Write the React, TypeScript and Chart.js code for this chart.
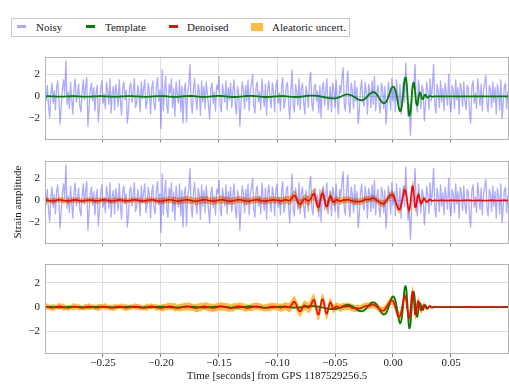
import { useEffect, useRef } from "react";
import { Chart, registerables } from "chart.js";

Chart.register(...registerables);

const FONT = '"Liberation Serif", "Times New Roman", Times, serif';

// ---------- axes ----------
const X_MIN = -0.3;
const X_MAX = 0.1;
const Y_MIN = -3.88;
const Y_MAX = 3.6;
const xTickValues = [-0.25, -0.2, -0.15, -0.1, -0.05, 0, 0.05];
const yTickValues = [-2, 0, 2];
const xAxisTitle = "Time [seconds] from GPS 1187529256.5";
const yAxisTitle = "Strain amplitude";
const legendLabels = ["Noisy", "Template", "Denoised", "Aleatoric uncert."];

// ---------- noisy strain, sampled every 1 ms from -0.300 s ----------
const noisyStart = -0.3;
const noisyStep = 0.001;
const noisyValues = [
  0.9, -0.4, 1.0, -0.8, -1.9, 0.3, 1.2, -0.6, 0.5, -1.2, 0.8, 1.4, -0.3, -2.5, -0.9, 0.6, 1.5, 0.2, 3.2, -0.7,
  0.4, -1.1, 1.3, -0.2, -1.6, 0.7, 1.6, -0.5, 0.1, 1.1, -0.9, -1.4, 0.5, 1.5, -0.3, 0.9, 1.7, -2.7, -1.0, 0.6,
  1.2, -0.4, 0.8, -1.3, 0.3, 1.0, -2.3, -0.8, 0.7, 1.4, -0.6, 0.2, -1.1, 1.3, 0.5, -0.7, 1.6, -1.5, 0.4, 0.9,
  -1.2, 1.1, 0.3, -0.9, 1.5, -0.4, -1.7, 0.8, 1.3, -0.3, 0.6, -2.4, -1.3, 0.9, 1.2, -0.5, 0.4, 1.6, -1.0, -0.6,
  1.0, 0.2, -1.4, 1.3, -0.2, 0.7, 1.5, -1.1, -0.5, 1.2, 0.4, -1.6, 0.8, 1.4, -0.7, -1.2, 0.9, 1.7, -0.4, 0.6,
  -2.9, 2.4, -1.3, 0.5, 1.8, -0.8, -1.5, 1.1, 0.3, 1.6, -1.0, 0.7, -1.8, 1.3, 0.2, -0.6, 1.5, -1.4, 0.9, -2.4,
  0.6, 1.2, -2.3, 0.4, 1.0, 2.9, -0.7, -1.5, 0.8, 1.6, -0.3, -1.2, 1.1, 0.5, -1.7, 1.4, -0.5, 0.9, -1.1, 1.3,
  0.2, -0.9, -2.0, 0.7, 1.2, -0.6, 0.4, -1.3, 1.0, 0.6, 1.8, -0.8, -1.4, 1.1, 0.3, -0.5, 1.4, -1.2, 0.8, -0.3,
  1.2, -1.0, 0.5, 1.5, -0.7, -1.6, 0.9, 0.3, -2.7, -0.6, 1.3, 0.7, -1.1, 1.0, -0.4, 1.5, -1.3, 0.6, 1.1, 2.0,
  -0.8, -1.5, 0.9, 1.3, -0.5, 0.4, -1.2, 1.6, 0.2, -0.9, 1.1, -1.7, 0.7, 1.4, -0.3, -1.0, 1.2, 0.5, -1.4, 0.8,
  1.5, -0.6, 0.3, -1.3, 1.0, 1.7, -1.1, -0.4, 0.9, 1.3, -0.7, -2.0, 0.6, 2.4, -0.9, -1.4, 1.1, 0.4, -0.8, 1.6,
  -1.2, 0.7, 1.2, -0.5, -1.6, 0.9, 0.3, -1.0, 1.4, 2.2, -0.6, -1.3, 0.8, 1.1, -0.4, 0.5, -1.5, 1.0, -1.9, 0.6,
  1.3, -0.8, 0.4, 1.6, -1.2, -0.3, 0.9, -1.4, 1.2, 0.6, -1.0, 1.5, -0.5, -1.6, 1.0, 0.3, 1.7, 2.6, -0.7, -1.3,
  0.9, 2.3, -0.6, -1.5, 1.2, 0.5, -1.1, 1.4, -0.4, 0.8, -2.5, -1.2, 0.7, 1.5, -0.3, -0.9, 1.3, 0.4, -1.6, 1.1,
  0.6, -1.0, 1.4, -0.7, 1.8, -1.3, 0.3, 1.0, -0.6, -1.5, 1.2, 0.7, -1.1, 0.9, -2.5, -0.8, 1.3, 0.5, -1.2, 1.6,
  -0.4, 0.8, -1.4, 1.5, 0.2, -0.9, 1.1, -1.6, 0.6, 1.3, -0.5, 3.0, 0.4, -1.8, -0.7, -3.5, -1.0, 1.2, 0.8, 2.9,
  -0.6, -1.4, 1.5, 0.3, -1.1, 1.0, 0.6, -2.2, -0.8, 1.3, 0.5, -1.2, 1.6, -0.4, 0.9, 2.9, -0.7, -1.5, 1.1, 0.4,
  -1.0, 1.4, -0.5, 0.7, -1.3, 1.2, 0.2, -0.8, 2.0, -0.6, -1.4, 1.0, 0.5, -1.1, 1.5, -0.3, 0.8, -1.6, 1.2, 0.6,
  -0.9, 1.3, -0.4, -1.2, 1.0, 0.7, -1.5, -2.4, 0.9, 1.4, -0.6, 0.3, -1.1, 1.6, 0.4, -0.8, 1.1, -1.3, 0.5, 1.2,
  1.9, -0.7, -1.4, 1.0, 0.6, -1.0, 1.3, -0.5, 0.8, -1.6, 1.1, 0.3, -1.2, 1.5, -2.0, -0.6, 0.9, 1.2, -1.1, 0.4,
  0.3,
];

// ---------- signal sampling: 2 ms, then 1 ms around the event, then 2 ms ----------
const signalSegments = [
  { start: -0.3, stop: -0.102, step: 0.002 },
  { start: -0.1, stop: 0.04, step: 0.001 },
  { start: 0.042, stop: 0.1, step: 0.002 },
];

// Template waveform (green)
const templateValues = [
  // -0.300 .. -0.102 (2 ms)
  0.01, 0.02, 0.02, 0.01, 0.0, -0.01, -0.02, -0.02, -0.01, 0.0,
  0.01, 0.02, 0.02, 0.02, 0.01, 0.0, -0.01, -0.02, -0.02, -0.02,
  -0.01, 0.0, 0.01, 0.02, 0.03, 0.02, 0.01, 0.0, -0.01, -0.02,
  -0.03, -0.02, -0.01, 0.0, 0.01, 0.02, 0.03, 0.03, 0.02, 0.01,
  0.0, -0.01, -0.02, -0.03, -0.03, -0.02, -0.01, 0.01, 0.02, 0.03,
  0.03, 0.03, 0.02, 0.0, -0.02, -0.03, -0.04, -0.03, -0.02, 0.0,
  0.02, 0.03, 0.04, 0.04, 0.03, 0.01, -0.01, -0.03, -0.04, -0.04,
  -0.03, -0.01, 0.01, 0.03, 0.04, 0.05, 0.04, 0.02, 0.0, -0.02,
  -0.04, -0.05, -0.05, -0.04, -0.02, 0.0, 0.02, 0.04, 0.05, 0.05,
  0.04, 0.02, 0.0, -0.02, -0.04, -0.05, -0.05, -0.04, -0.02, 0.0,
  // -0.100 .. 0.040 (1 ms)
  0.01, 0.02, 0.03, 0.035, 0.04, 0.04, 0.035, 0.025, 0.015, 0.0,
  -0.01, -0.02, -0.03, -0.04, -0.045, -0.05, -0.05, -0.05, -0.045, -0.04,
  -0.03, -0.02, -0.005, 0.01, 0.025, 0.04, 0.05, 0.06, 0.07, 0.075,
  0.08, 0.08, 0.075, 0.07, 0.06, 0.045, 0.03, 0.01, -0.01, -0.03,
  -0.05, -0.07, -0.09, -0.11, -0.13, -0.145, -0.155, -0.165, -0.17, -0.17,
  -0.165, -0.15, -0.125, -0.09, -0.05, -0.01, 0.04, 0.09, 0.13, 0.16,
  0.18, 0.185, 0.175, 0.15, 0.11, 0.06, 0.0, -0.06, -0.13, -0.2,
  -0.26, -0.31, -0.34, -0.35, -0.33, -0.28, -0.2, -0.1, 0.01, 0.12,
  0.23, 0.32, 0.37, 0.39, 0.37, 0.3, 0.19, 0.04, -0.13, -0.3,
  -0.45, -0.56, -0.62, -0.6, -0.5, -0.31, -0.06, 0.25, 0.55, 0.78,
  0.88, 0.82, 0.56, 0.13, -0.4, -1.0, -1.33, -1.2, -0.55, 0.4,
  1.55, 1.72, 0.9, -0.7, -1.75, -1.45, -0.2, 1.0, 1.25, 0.4,
  -0.6, -0.8, -0.1, 0.35, 0.2, -0.2, -0.22, 0.1, 0.15, -0.05,
  -0.1, 0.02, 0.06, 0.0, -0.03, 0.0, 0.01, 0.0, 0.0, 0.0,
  0.0,
  // 0.042 .. 0.100 (2 ms)
  0, 0, 0, 0, 0, 0, 0, 0, 0, 0,
  0, 0, 0, 0, 0, 0, 0, 0, 0, 0,
  0, 0, 0, 0, 0, 0, 0, 0, 0, 0,
];

// Denoised output (red)
const denoisedValues = [
  // -0.300 .. -0.102
  0.05, 0.03, -0.02, -0.05, -0.03, 0.02, 0.06, 0.04, -0.01, -0.04,
  -0.06, -0.02, 0.03, 0.05, 0.02, -0.03, -0.05, -0.02, 0.02, 0.04,
  0.03, -0.01, -0.04, -0.03, 0.01, 0.05, 0.04, 0.0, -0.04, -0.05,
  -0.02, 0.02, 0.05, 0.03, -0.01, -0.04, -0.03, 0.01, 0.04, 0.05,
  0.02, -0.02, -0.05, -0.04, 0.0, 0.04, 0.06, 0.03, -0.02, -0.05,
  -0.07, -0.04, 0.01, 0.05, 0.06, 0.03, -0.02, -0.06, -0.05, -0.01,
  0.04, 0.07, 0.05, 0.0, -0.05, -0.07, -0.04, 0.01, 0.05, 0.06,
  0.03, -0.02, -0.06, -0.05, -0.01, 0.04, 0.07, 0.05, 0.0, -0.05,
  -0.07, -0.04, 0.02, 0.06, 0.07, 0.03, -0.03, -0.07, -0.06, -0.01,
  0.04, 0.07, 0.05, 0.0, -0.05, -0.06, -0.03, 0.02, 0.05, 0.04,
  // -0.100 .. 0.040
  0.02, 0.0, -0.03, -0.05, -0.04, 0.0, 0.04, 0.06, 0.05, 0.02,
  -0.02, 0.0, 0.1, 0.25, 0.4, 0.45, 0.35, 0.1, -0.15, -0.3,
  -0.35, -0.25, -0.05, 0.1, 0.15, 0.1, 0.0, -0.05, 0.0, 0.15,
  0.35, 0.55, 0.6, 0.3, -0.2, -0.55, -0.6, -0.2, 0.35, 0.65,
  0.55, 0.1, -0.4, -0.55, -0.25, 0.2, 0.4, 0.25, -0.05, -0.15,
  -0.05, 0.05, 0.05, 0.0, -0.05, -0.06, -0.02, 0.03, 0.05, 0.03,
  0.05, 0.08, 0.07, 0.03, -0.02, -0.06, -0.08, -0.1, -0.1, -0.08,
  -0.1, -0.12, -0.1, -0.06, 0.0, 0.05, 0.08, 0.1, 0.1, 0.1,
  0.12, 0.16, 0.2, 0.2, 0.18, 0.1, 0.02, -0.05, -0.12, -0.2,
  -0.26, -0.3, -0.28, -0.2, -0.05, 0.1, 0.25, 0.4, 0.5, 0.55,
  0.5, 0.3, 0.0, -0.35, -0.65, -0.8, -0.75, -0.45, 0.05, 0.6,
  0.95, 0.8, 0.1, -0.6, -0.9, -0.3, 0.8, 1.3, 0.6, -0.6,
  -0.5, 0.3, 0.5, 0.1, -0.25, -0.2, 0.1, 0.18, 0.0, -0.12,
  -0.08, 0.05, 0.08, 0.0, -0.04, 0.0, 0.02, 0.0, -0.01, 0.0,
  0.0,
  // 0.042 .. 0.100
  0.01, 0.0, -0.01, 0.0, 0.01, 0.01, 0.0, -0.01, -0.01, 0.0,
  0.01, 0.02, 0.01, 0.0, -0.01, 0.0, 0.01, 0.0, -0.01, 0.0,
  0.0, 0.01, 0.01, 0.0, -0.01, -0.01, 0.0, 0.01, 0.0, 0.0,
];

// Aleatoric uncertainty half-width (orange band)
const uncertaintyValues = [
  // -0.300 .. -0.102
  0.22, 0.26, 0.2, 0.28, 0.24, 0.19, 0.27, 0.23, 0.3, 0.21,
  0.25, 0.2, 0.29, 0.24, 0.22, 0.27, 0.19, 0.26, 0.23, 0.28,
  0.2, 0.25, 0.22, 0.3, 0.24, 0.21, 0.27, 0.2, 0.25, 0.23,
  0.28, 0.22, 0.19, 0.26, 0.24, 0.29, 0.21, 0.25, 0.2, 0.27,
  0.23, 0.26, 0.21, 0.24, 0.3, 0.22, 0.25, 0.2, 0.28, 0.24,
  0.27, 0.31, 0.25, 0.33, 0.28, 0.3, 0.35, 0.27, 0.32, 0.29,
  0.34, 0.3, 0.36, 0.31, 0.28, 0.35, 0.32, 0.37, 0.3, 0.33,
  0.36, 0.31, 0.34, 0.29, 0.35, 0.32, 0.38, 0.3, 0.33, 0.36,
  0.3, 0.34, 0.31, 0.28, 0.33, 0.29, 0.35, 0.3, 0.27, 0.32,
  0.29, 0.33, 0.28, 0.31, 0.27, 0.32, 0.3, 0.34, 0.29, 0.31,
  // -0.100 .. 0.040
  0.3, 0.33, 0.29, 0.35, 0.31, 0.34, 0.3, 0.36, 0.33, 0.35,
  0.38, 0.4, 0.42, 0.45, 0.43, 0.47, 0.44, 0.42, 0.45, 0.43,
  0.46, 0.42, 0.4, 0.38, 0.41, 0.39, 0.42, 0.44, 0.46, 0.48,
  0.5, 0.48, 0.52, 0.5, 0.47, 0.51, 0.49, 0.53, 0.5, 0.48,
  0.5, 0.47, 0.45, 0.48, 0.44, 0.42, 0.4, 0.38, 0.36, 0.35,
  0.33, 0.35, 0.32, 0.3, 0.33, 0.31, 0.34, 0.3, 0.32, 0.29,
  0.31, 0.33, 0.3, 0.28, 0.31, 0.29, 0.32, 0.3, 0.28, 0.31,
  0.29, 0.3, 0.27, 0.3, 0.28, 0.31, 0.29, 0.27, 0.3, 0.28,
  0.3, 0.28, 0.31, 0.29, 0.27, 0.3, 0.28, 0.31, 0.29, 0.32,
  0.3, 0.33, 0.31, 0.34, 0.32, 0.35, 0.33, 0.36, 0.34, 0.37,
  0.36, 0.38, 0.35, 0.39, 0.37, 0.4, 0.38, 0.42, 0.4, 0.43,
  0.45, 0.42, 0.46, 0.44, 0.47, 0.45, 0.48, 0.5, 0.46, 0.44,
  0.42, 0.38, 0.36, 0.32, 0.3, 0.27, 0.24, 0.22, 0.19, 0.17,
  0.15, 0.13, 0.11, 0.09, 0.08, 0.07, 0.06, 0.06, 0.05, 0.06,
  0.05,
  // 0.042 .. 0.100
  0.05, 0.06, 0.05, 0.04, 0.06, 0.05, 0.07, 0.05, 0.04, 0.06,
  0.05, 0.04, 0.06, 0.05, 0.05, 0.07, 0.04, 0.05, 0.06, 0.05,
  0.04, 0.06, 0.05, 0.05, 0.04, 0.06, 0.05, 0.07, 0.05, 0.05,
];

// ---------- colours ----------
const NOISY_COLOR = "rgba(0,0,255,0.33)";
const NOISY_SWATCH = "#aaaaff";
const TEMPLATE_COLOR = "#008000";
const DENOISED_COLOR = "#ff0000";
const BAND_COLOR = "rgba(255,165,0,0.75)";
const GRID_COLOR = "#dedede";
const FRAME_COLOR = "#b4b4b4";
const TEXT_COLOR = "#1a1a1a";

// ---------- derived tables ----------
const noisyTime = noisyValues.map((_, i) => +(noisyStart + i * noisyStep).toFixed(4));
const signalTime: number[] = [];
for (const seg of signalSegments) {
  const n = Math.round((seg.stop - seg.start) / seg.step) + 1;
  for (let i = 0; i < n; i++) signalTime.push(+(seg.start + i * seg.step).toFixed(4));
}
const noisyPoints = noisyTime.map((x, i) => ({ x, y: noisyValues[i] }));
const templatePoints = signalTime.map((x, i) => ({ x, y: templateValues[i] }));
const denoisedPoints = signalTime.map((x, i) => ({ x, y: denoisedValues[i] }));
const bandUpper = signalTime.map((x, i) => ({ x, y: denoisedValues[i] + uncertaintyValues[i] }));
const bandLower = signalTime.map((x, i) => ({ x, y: denoisedValues[i] - uncertaintyValues[i] }));

const fmtX = (v: number) => {
  const s = Math.abs(v) < 1e-9 ? "0.00" : v.toFixed(2);
  return s.replace("-", "\u2212");
};
const fmtY = (v: number) => String(v).replace("-", "\u2212");

const framePlugin = {
  id: "frame",
  afterDatasetsDraw(chart: any) {
    const { ctx, chartArea: a } = chart;
    ctx.save();
    ctx.strokeStyle = FRAME_COLOR;
    ctx.lineWidth = 1;
    ctx.strokeRect(Math.round(a.left) + 0.5, Math.round(a.top) + 0.5, Math.round(a.right - a.left) - 1, Math.round(a.bottom - a.top) - 1);
    ctx.restore();
  },
};

function makeOptions(xAxisHeight: number, showXLabels: boolean, yTitle: boolean, xTitle: boolean): any {
  return {
    responsive: false,
    animation: false,
    devicePixelRatio: 1,
    events: [],
    layout: { padding: { top: 2, right: 0, bottom: 0, left: 0 } },
    plugins: { legend: { display: false }, tooltip: { enabled: false } },
    elements: { point: { radius: 0 } },
    scales: {
      x: {
        type: "linear",
        min: X_MIN,
        max: X_MAX,
        afterBuildTicks: (s: any) => {
          s.ticks = xTickValues.map((v) => ({ value: v }));
        },
        afterFit: (s: any) => {
          s.height = xAxisHeight;
        },
        ticks: {
          display: showXLabels,
          padding: 0,
          maxRotation: 0,
          autoSkip: false,
          color: TEXT_COLOR,
          font: { family: FONT, size: 11 },
          callback: (v: any) => fmtX(Number(v)),
        },
        grid: { color: GRID_COLOR, lineWidth: 1, drawTicks: true, tickLength: 3, tickColor: "#808080", tickWidth: 1 },
        border: { display: false },
        title: {
          display: xTitle,
          text: xAxisTitle,
          color: TEXT_COLOR,
          font: { family: FONT, size: 11 },
          padding: { top: 0, bottom: 0 },
        },
      },
      y: {
        type: "linear",
        min: Y_MIN,
        max: Y_MAX,
        afterBuildTicks: (s: any) => {
          s.ticks = yTickValues.map((v) => ({ value: v }));
        },
        afterFit: (s: any) => {
          s.width = 45;
        },
        ticks: {
          padding: 5,
          color: TEXT_COLOR,
          font: { family: FONT, size: 11 },
          callback: (v: any) => fmtY(Number(v)),
        },
        grid: { color: GRID_COLOR, lineWidth: 1, drawTicks: false },
        border: { display: false },
        title: {
          display: yTitle,
          text: yAxisTitle,
          color: TEXT_COLOR,
          font: { family: FONT, size: 11 },
          padding: { top: 12, bottom: 0 },
        },
      },
    },
  };
}

const lineBase = { pointRadius: 0, fill: false, borderJoinStyle: "round" as const };

const noisyDataset = (order: number) => ({
  ...lineBase,
  label: "Noisy",
  data: noisyPoints,
  borderColor: NOISY_COLOR,
  borderWidth: 1.3,
  tension: 0,
  order,
});
const templateDataset = (order: number) => ({
  ...lineBase,
  label: "Template",
  data: templatePoints,
  borderColor: TEMPLATE_COLOR,
  borderWidth: 1.8,
  tension: 0.4,
  order,
});
const denoisedDataset = (order: number) => ({
  ...lineBase,
  label: "Denoised",
  data: denoisedPoints,
  borderColor: DENOISED_COLOR,
  borderWidth: 1.6,
  tension: 0.4,
  order,
});
const bandDatasets = (order: number) => [
  {
    ...lineBase,
    label: "band-upper",
    data: bandUpper,
    borderWidth: 0,
    borderColor: "rgba(0,0,0,0)",
    tension: 0.2,
    order,
  },
  {
    ...lineBase,
    label: "Aleatoric uncert.",
    data: bandLower,
    borderWidth: 0,
    borderColor: "rgba(0,0,0,0)",
    backgroundColor: BAND_COLOR,
    fill: "-1",
    tension: 0.2,
    order: order + 1,
  },
];

type PanelProps = { top: number; height: number; build: () => any };

function Panel({ top, height, build }: PanelProps) {
  const ref = useRef<HTMLCanvasElement | null>(null);
  useEffect(() => {
    if (!ref.current) return;
    const chart = new Chart(ref.current, build());
    return () => chart.destroy();
  }, []);
  return (
    <canvas
      ref={ref}
      width={509}
      height={height}
      style={{ position: "absolute", left: 0, top, width: 509, height }}
    />
  );
}

const panel1 = () => ({
  type: "line",
  data: { datasets: [templateDataset(0), noisyDataset(1)] },
  options: makeOptions(4, false, false, false),
  plugins: [framePlugin],
});
const panel2 = () => ({
  type: "line",
  data: { datasets: [denoisedDataset(0), noisyDataset(1), ...bandDatasets(2)] },
  options: makeOptions(4, false, true, false),
  plugins: [framePlugin],
});
const panel3 = () => ({
  type: "line",
  data: { datasets: [denoisedDataset(0), templateDataset(1), ...bandDatasets(2)] },
  options: makeOptions(29, true, false, true),
  plugins: [framePlugin],
});

const legendSwatches = [
  { left: 17, top: 25, width: 9, height: 3, color: NOISY_SWATCH },
  { left: 86, top: 25, width: 9, height: 3, color: TEMPLATE_COLOR },
  { left: 169, top: 25, width: 9, height: 3, color: DENOISED_COLOR },
  { left: 251, top: 23, width: 12, height: 8, color: BAND_COLOR },
];
const legendTextLeft = [36, 105, 187, 272];

export default function App() {
  return (
    <div style={{ position: "absolute", left: 0, top: 0, width: 509, height: 388, background: "#fff", overflow: "hidden" }}>
      <Panel top={45} height={106} build={panel1} />
      <Panel top={149} height={106} build={panel2} />
      <Panel top={252} height={131} build={panel3} />
      <div
        style={{
          position: "absolute",
          left: 11,
          top: 18,
          width: 339,
          height: 19,
          boxSizing: "border-box",
          border: "1px solid #c8c8c8",
          background: "#fff",
        }}
      />
      {legendSwatches.map((s, i) => (
        <div
          key={"sw" + i}
          style={{ position: "absolute", left: s.left, top: s.top, width: s.width, height: s.height, background: s.color }}
        />
      ))}
      {legendLabels.map((t, i) => (
        <div
          key={"lt" + i}
          style={{
            position: "absolute",
            left: legendTextLeft[i],
            top: 18,
            height: 19,
            lineHeight: "19px",
            fontFamily: FONT,
            fontSize: 11,
            color: TEXT_COLOR,
            whiteSpace: "nowrap",
          }}
        >
          {t}
        </div>
      ))}
    </div>
  );
}
